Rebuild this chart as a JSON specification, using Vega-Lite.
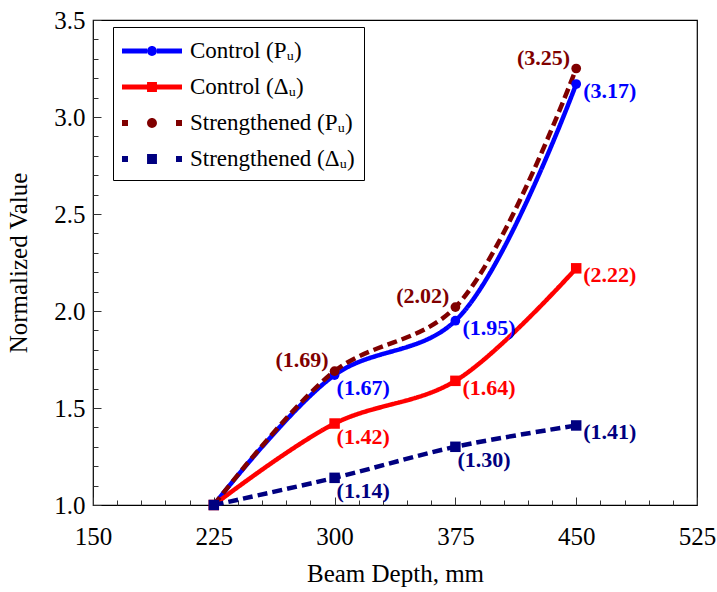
{
  "$schema": "https://vega.github.io/schema/vega-lite/v6.json",
  "width": 604,
  "height": 485,
  "autosize": {"type": "none"},
  "padding": {"left": 93, "top": 20, "right": 20, "bottom": 87},
  "background": "white",
  "config": {
    "view": {"stroke": "black", "strokeWidth": 1.2},
    "font": "Liberation Serif",
    "axis": {"grid": false, "domain": false, "labelFont": "Liberation Serif", "titleFont": "Liberation Serif", "labelColor": "black", "titleColor": "black", "tickColor": "#333", "labelFontSize": 25, "titleFontSize": 25, "titleFontWeight": "normal", "tickWidth": 1}
  },
  "data": {
    "values": [
      {"series": "Control (Pᵤ)", "type": "Control", "metric": "Pu", "depth": 225, "value": 1.00},
      {"series": "Control (Pᵤ)", "type": "Control", "metric": "Pu", "depth": 300, "value": 1.67},
      {"series": "Control (Pᵤ)", "type": "Control", "metric": "Pu", "depth": 375, "value": 1.95},
      {"series": "Control (Pᵤ)", "type": "Control", "metric": "Pu", "depth": 450, "value": 3.17},
      {"series": "Control (Δᵤ)", "type": "Control", "metric": "Du", "depth": 225, "value": 1.00},
      {"series": "Control (Δᵤ)", "type": "Control", "metric": "Du", "depth": 300, "value": 1.42},
      {"series": "Control (Δᵤ)", "type": "Control", "metric": "Du", "depth": 375, "value": 1.64},
      {"series": "Control (Δᵤ)", "type": "Control", "metric": "Du", "depth": 450, "value": 2.22},
      {"series": "Strengthened (Pᵤ)", "type": "Strengthened", "metric": "Pu", "depth": 225, "value": 1.00},
      {"series": "Strengthened (Pᵤ)", "type": "Strengthened", "metric": "Pu", "depth": 300, "value": 1.69},
      {"series": "Strengthened (Pᵤ)", "type": "Strengthened", "metric": "Pu", "depth": 375, "value": 2.02},
      {"series": "Strengthened (Pᵤ)", "type": "Strengthened", "metric": "Pu", "depth": 450, "value": 3.25},
      {"series": "Strengthened (Δᵤ)", "type": "Strengthened", "metric": "Du", "depth": 225, "value": 1.00},
      {"series": "Strengthened (Δᵤ)", "type": "Strengthened", "metric": "Du", "depth": 300, "value": 1.14},
      {"series": "Strengthened (Δᵤ)", "type": "Strengthened", "metric": "Du", "depth": 375, "value": 1.30},
      {"series": "Strengthened (Δᵤ)", "type": "Strengthened", "metric": "Du", "depth": 450, "value": 1.41}
    ]
  },
  "encoding": {
    "x": {
      "field": "depth", "type": "quantitative",
      "scale": {"domain": [150, 525], "nice": false, "zero": false},
      "axis": {
        "title": "Beam Depth, mm",
        "values": [150,165,180,195,210,225,240,255,270,285,300,315,330,345,360,375,390,405,420,435,450,465,480,495,510,525],
        "labelExpr": "datum.value % 75 == 0 ? datum.label : ''",
        "tickSize": {"condition": {"test": "datum.value % 75 == 0", "value": -8}, "value": -5},
        "labelPadding": 27,
        "labelFlush": false,
        "titlePadding": 12
      }
    },
    "y": {
      "field": "value", "type": "quantitative",
      "scale": {"domain": [1, 3.5], "nice": false, "zero": false},
      "axis": {
        "title": "Normalized Value",
        "values": [1.0,1.1,1.2,1.3,1.4,1.5,1.6,1.7,1.8,1.9,2.0,2.1,2.2,2.3,2.4,2.5,2.6,2.7,2.8,2.9,3.0,3.1,3.2,3.3,3.4,3.5],
        "labelExpr": "abs(datum.value*2 - round(datum.value*2)) < 0.001 ? format(datum.value, '.1f') : ''",
        "tickSize": {"condition": {"test": "abs(datum.value*2 - round(datum.value*2)) < 0.001", "value": -8}, "value": -5},
        "labelPadding": 16,
        "labelFlush": false,
        "titlePadding": 22
      }
    }
  },
  "layer": [
    {
      "mark": {"type": "line", "interpolate": "catmull-rom", "strokeWidth": 4.5},
      "encoding": {
        "color": {"field": "series", "type": "nominal", "legend": null,
          "scale": {"domain": ["Control (Pᵤ)", "Control (Δᵤ)", "Strengthened (Pᵤ)", "Strengthened (Δᵤ)"], "range": ["#0000FF", "#FF0000", "#800000", "#000080"]}},
        "strokeDash": {"field": "series", "type": "nominal", "legend": null,
          "scale": {"domain": ["Control (Pᵤ)", "Control (Δᵤ)", "Strengthened (Pᵤ)", "Strengthened (Δᵤ)"], "range": [[1, 0], [1, 0], [10, 5], [10, 5]]}}
      }
    },
    {
      "transform": [{"filter": "datum.metric == 'Pu'"}],
      "mark": {"type": "point", "shape": "circle", "filled": true, "opacity": 1, "size": 95},
      "encoding": {"color": {"field": "series", "type": "nominal", "legend": null}}
    },
    {
      "transform": [{"filter": "datum.metric == 'Du'"}],
      "mark": {"type": "point", "shape": "square", "filled": true, "opacity": 1, "size": 110},
      "encoding": {"color": {"field": "series", "type": "nominal", "legend": null}}
    },
    {
      "transform": [{"calculate": "'(' + format(datum.value, '.2f') + ')'", "as": "lbl"},
        {"filter": "(datum.depth == 300 && datum.series != 'Strengthened (Pᵤ)') || (datum.depth == 375 && datum.series == 'Strengthened (Δᵤ)')"}],
      "mark": {"type": "text", "align": "left", "baseline": "middle", "dx": 2, "dy": 13, "fontSize": 22, "fontWeight": "bold", "font": "Liberation Serif"},
      "encoding": {"text": {"field": "lbl"}, "color": {"field": "series", "type": "nominal", "legend": null}}
    },
    {
      "transform": [{"calculate": "'(' + format(datum.value, '.2f') + ')'", "as": "lbl"},
        {"filter": "datum.series != 'Strengthened (Pᵤ)' && (datum.depth == 450 || (datum.depth == 375 && datum.series != 'Strengthened (Δᵤ)'))"}],
      "mark": {"type": "text", "align": "left", "baseline": "middle", "dx": 7, "dy": 7, "fontSize": 22, "fontWeight": "bold", "font": "Liberation Serif"},
      "encoding": {"text": {"field": "lbl"}, "color": {"field": "series", "type": "nominal", "legend": null}}
    },
    {
      "transform": [{"calculate": "'(' + format(datum.value, '.2f') + ')'", "as": "lbl"},
        {"filter": "datum.series == 'Strengthened (Pᵤ)' && datum.depth > 225"}],
      "mark": {"type": "text", "align": "right", "baseline": "middle", "dx": -6, "dy": -11, "fontSize": 22, "fontWeight": "bold", "font": "Liberation Serif"},
      "encoding": {"text": {"field": "lbl"}, "color": {"field": "series", "type": "nominal", "legend": null}}
    },
    {
      "transform": [{"filter": "datum.depth == 225"}, {"calculate": "datum.series", "as": "legendName"}],
      "mark": {"type": "point", "filled": true, "opacity": 0},
      "encoding": {
        "fill": {"field": "legendName", "type": "nominal",
          "scale": {"range": ["#0000FF", "#FF0000", "#800000", "#000080"]},
          "legend": {"title": null, "orient": "none", "legendX": 20, "legendY": 7, "symbolSize": 900, "symbolStrokeWidth": 0, "symbolOpacity": 1, "labelOffset": 38, "rowPadding": 9, "padding": 9, "strokeColor": "black", "fillColor": "white", "labelFont": "Liberation Serif", "labelFontSize": 23, "labelColor": "black", "labelLimit": 300}},
        "shape": {"field": "legendName", "type": "nominal",
          "legend": {"title": null, "orient": "none", "legendX": 20, "legendY": 7, "symbolSize": 900, "symbolStrokeWidth": 0, "symbolOpacity": 1, "labelOffset": 38, "rowPadding": 9, "padding": 9, "strokeColor": "black", "fillColor": "white", "labelFont": "Liberation Serif", "labelFontSize": 23, "labelColor": "black", "labelLimit": 300},
          "scale": {
            "range": [
              "M-1,-0.16H0.67V0.16H-1Z M1.33,-0.16H3V0.16H1.33Z M0.67,0A0.33,0.33 0 1,0 1.33,0A0.33,0.33 0 1,0 0.67,0Z",
              "M-1,-0.16H0.67V0.16H-1Z M1.33,-0.16H3V0.16H1.33Z M0.67,-0.33H1.33V0.33H0.67Z",
              "M-1,-0.2H-0.6V0.2H-1Z M2.6,-0.2H3V0.2H2.6Z M0.67,0A0.33,0.33 0 1,0 1.33,0A0.33,0.33 0 1,0 0.67,0Z",
              "M-1,-0.2H-0.6V0.2H-1Z M2.6,-0.2H3V0.2H2.6Z M0.67,-0.33H1.33V0.33H0.67Z"
            ]}}
      }
    }
  ]
}
